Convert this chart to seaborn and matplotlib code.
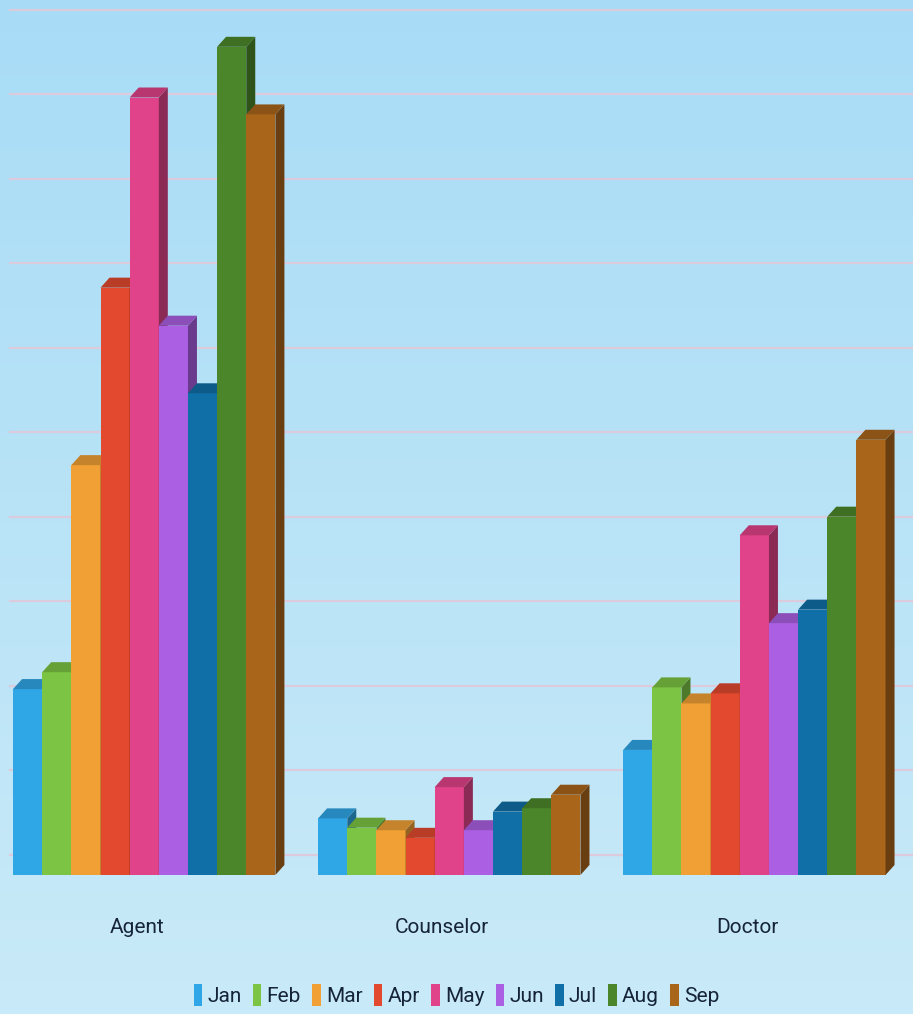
import numpy as np
import pandas as pd
import seaborn as sns
import matplotlib.pyplot as plt
from matplotlib.patches import Polygon, Patch
from matplotlib.colors import to_rgb
from matplotlib.transforms import ScaledTranslation

categories = ["Agent", "Counselor", "Doctor"]
months = ["Jan", "Feb", "Mar", "Apr", "May", "Jun", "Jul", "Aug", "Sep"]
agent = [2.2, 2.4, 4.85, 6.95, 9.2, 6.5, 5.7, 9.8, 9.0]
counselor = [0.67, 0.56, 0.53, 0.44, 1.04, 0.53, 0.75, 0.79, 0.95]
doctor = [1.48, 2.22, 2.03, 2.15, 4.02, 2.98, 3.14, 4.24, 5.15]
colors = ["#2fa6e6", "#7cc443", "#f0a035", "#e2492f", "#e04389",
          "#ab5fe2", "#106fa6", "#4b872a", "#a9661b"]
grid_values = list(range(0, 11))

df = pd.DataFrame({
    "job": np.repeat(categories, len(months)),
    "month": months * len(categories),
    "value": agent + counselor + doctor,
})

W, H = 913, 1014
fig = plt.figure(figsize=(W / 100, H / 100), dpi=100)
font = ["Roboto", "DejaVu Sans"]

# background gradient
bg = fig.add_axes([0, 0, 1, 1], zorder=-5)
top_c = np.array(to_rgb("#a8dcf6"))
bot_c = np.array(to_rgb("#c9eaf8"))
t = np.linspace(0, 1, 256)[:, None, None]
grad = top_c * (1 - t) + bot_c * t
bg.imshow(np.repeat(grad, 2, axis=1), aspect="auto", extent=[0, 1, 0, 1])
bg.axis("off")

ax = fig.add_axes([10 / W, 139 / H, 903 / W, 862 / H])
ax.set_facecolor("none")
sns.barplot(data=df, x="job", y="value", hue="month", palette=colors,
            width=0.86, gap=0, saturation=1, errorbar=None, legend=False,
            linewidth=0, ax=ax)
xlim = (-0.44, 2.52)
ylim = (0, 10.2)
ax.set_xlim(*xlim)
ax.set_ylim(*ylim)

# back wall gridlines, shifted up by the depth of the floor
offset = ScaledTranslation(0, 0.2, fig.dpi_scale_trans)
for v in grid_values:
    ax.plot([0, 1], [v, v], color="#dccbdc", lw=1.6, zorder=0.5,
            clip_on=False, transform=ax.get_yaxis_transform() + offset)

# fake 3D: side and top faces from each bar
dx = 9 / (903 / (xlim[1] - xlim[0]))
dy = 10 / (862 / (ylim[1] - ylim[0]))
bars = sorted([p for p in ax.patches if p.get_height() > 0], key=lambda p: p.get_x())
for k, b in enumerate(bars):
    x0, w, h = b.get_x(), b.get_width(), b.get_height()
    c = np.array(to_rgb(b.get_facecolor()))
    z = 2 + k * 0.01
    b.set_zorder(z)
    b.set_edgecolor("none")
    side = Polygon([(x0 + w, 0), (x0 + w + dx, dy), (x0 + w + dx, h + dy), (x0 + w, h)],
                   closed=True, fc=c * 0.62, ec="none", zorder=z)
    top = Polygon([(x0, h), (x0 + dx, h + dy), (x0 + w + dx, h + dy), (x0 + w, h)],
                  closed=True, fc=c * 0.82, ec="none", zorder=z)
    ax.add_patch(side)
    ax.add_patch(top)

for s in ax.spines.values():
    s.set_visible(False)
ax.set_xlabel("")
ax.set_ylabel("")
ax.set_yticks([])
ax.tick_params(axis="x", length=0, pad=31, labelsize=15, labelcolor="#16243a")
shift = ScaledTranslation(-0.07, 0, fig.dpi_scale_trans)
for lbl in ax.get_xticklabels():
    lbl.set_family(font)
    lbl.set_transform(lbl.get_transform() + shift)

handles = [Patch(fc=c, ec="none") for c in colors]
leg = fig.legend(handles, months, loc="center", bbox_to_anchor=(0.5, 19 / H),
                 ncol=len(months), frameon=False, handlelength=0.4,
                 handleheight=1.3, handletextpad=0.25, columnspacing=0.55,
                 prop={"family": font, "size": 15})
for txt in leg.get_texts():
    txt.set_color("#16243a")

fig.savefig("out.png", dpi=100)
